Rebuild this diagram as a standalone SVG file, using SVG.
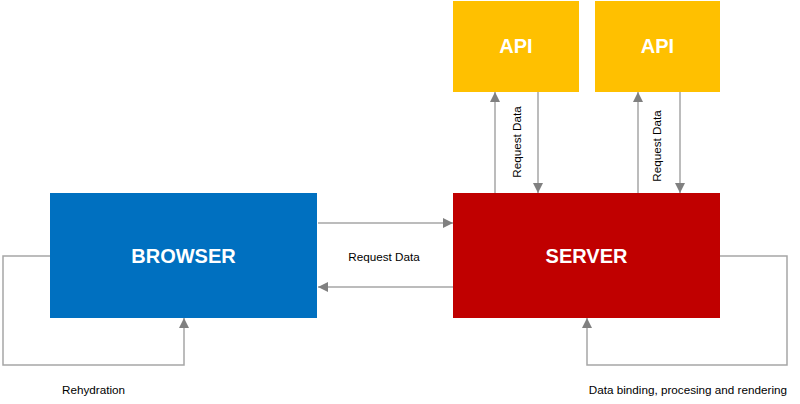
<svg xmlns="http://www.w3.org/2000/svg" width="800" height="404" viewBox="0 0 800 404">
<style>
.title{font-family:"Liberation Sans",Arial,sans-serif;font-weight:bold;font-size:20px;fill:#fff;text-anchor:middle;dominant-baseline:central}
.lbl{font-family:"Liberation Sans",Arial,sans-serif;font-size:11.7px;fill:#000}
.c{fill:none;stroke:#a6a6a6;stroke-width:1.5}
</style>
<defs>
<marker id="ah" viewBox="0 0 10 10" refX="10" refY="5" markerWidth="10" markerHeight="10" markerUnits="userSpaceOnUse" orient="auto">
<path d="M0,0 L10,5 L0,10 Z" fill="#808080"/>
</marker>
</defs>
<rect width="800" height="404" fill="#fff"/>
<g id="connectors">
<line class="c" x1="318" y1="223" x2="453" y2="223" marker-end="url(#ah)"/>
<line class="c" x1="453" y1="287" x2="318" y2="287" marker-end="url(#ah)"/>
<polyline class="c" points="50,256 3,256 3,365 184,365 184,318" marker-end="url(#ah)"/>
<polyline class="c" points="720,256 787,256 787,365 587,365 587,318" marker-end="url(#ah)"/>
<line class="c" x1="495" y1="193" x2="495" y2="92" marker-end="url(#ah)"/>
<line class="c" x1="538" y1="92" x2="538" y2="193" marker-end="url(#ah)"/>
<line class="c" x1="638" y1="193" x2="638" y2="92" marker-end="url(#ah)"/>
<line class="c" x1="680" y1="92" x2="680" y2="193" marker-end="url(#ah)"/>
<text class="lbl" x="384" y="261" text-anchor="middle">Request Data</text>
<text class="lbl" transform="translate(521,142) rotate(-90)" text-anchor="middle">Request Data</text>
<text class="lbl" transform="translate(661,146) rotate(-90)" text-anchor="middle">Request Data</text>
<text class="lbl" x="62" y="394">Rehydration</text>
<text class="lbl" x="787" y="394" text-anchor="end">Data binding, procesing and rendering</text>
</g>
<g id="browser">
<rect x="50" y="193" width="267" height="125" fill="#0070C0"/>
<text class="title" x="183.5" y="256">BROWSER</text>
</g>
<g id="server">
<rect x="453" y="193" width="267" height="125" fill="#C00000"/>
<text class="title" x="586.5" y="256">SERVER</text>
</g>
<g id="api1">
<rect x="453" y="1" width="126" height="91" fill="#FFC000"/>
<text class="title" x="516" y="46">API</text>
</g>
<g id="api2">
<rect x="595" y="1" width="125" height="91" fill="#FFC000"/>
<text class="title" x="657.5" y="46">API</text>
</g>
</svg>
